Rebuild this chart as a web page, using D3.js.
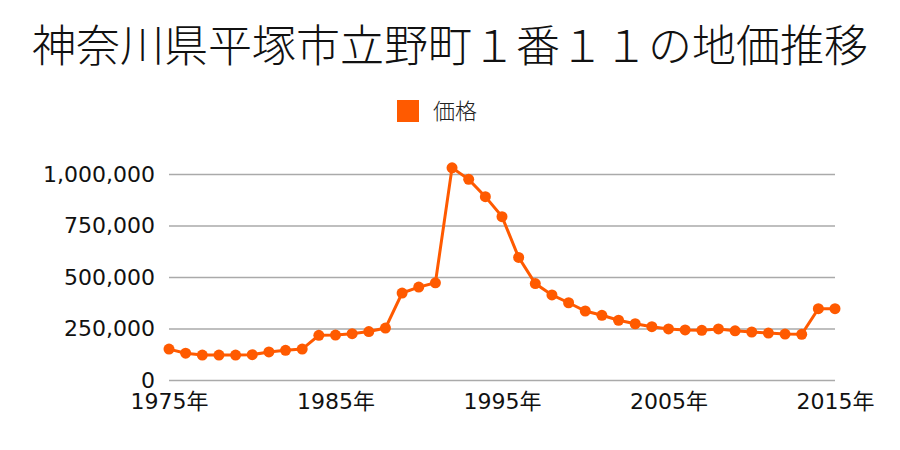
<!DOCTYPE html>
<html><head><meta charset="utf-8">
<script src="https://cdn.jsdelivr.net/npm/d3@7"></script>
<style>body{margin:0;background:#fff}svg{display:block;font-family:"DejaVu Sans","Noto Sans CJK JP",sans-serif}</style>
</head><body><svg id="c" width="900" height="450"></svg>
<script>
const title = "神奈川県平塚市立野町１番１１の地価推移";
const seriesName = "価格";
const years = [1975,1976,1977,1978,1979,1980,1981,1982,1983,1984,1985,1986,1987,1988,1989,1990,1991,1992,1993,1994,1995,1996,1997,1998,1999,2000,2001,2002,2003,2004,2005,2006,2007,2008,2009,2010,2011,2012,2013,2014,2015];
const prices = [150000,130000,121000,121000,121000,123000,136000,144000,150000,217000,218000,225000,235000,252000,422000,451000,472000,1030000,974000,890000,793000,595000,468000,413000,375000,335000,314000,290000,273000,259000,248000,243000,241000,248000,239000,233000,228000,223000,222000,346000,346000];
const yTicks = [0,250000,500000,750000,1000000];
const xTicks = [1975,1985,1995,2005,2015];
const color = "#ff5a00";
const labelFont = "'DejaVu Sans','Noto Sans CJK JP',sans-serif";

const svg = d3.select("#c");
const x = d3.scaleLinear().domain([1975,2015]).range([169,835]);
const y = d3.scaleLinear().domain([0,1000000]).range([380,174]);

svg.append("text").attr("x",450).attr("y",62).attr("text-anchor","middle")
  .attr("font-size",44).attr("fill","#111").attr("font-family","'Noto Sans CJK JP',sans-serif")
  .attr("font-weight",300).text(title);

svg.append("rect").attr("x",397).attr("y",100).attr("width",22).attr("height",22).attr("fill",color);
svg.append("text").attr("x",433).attr("y",119).attr("font-size",22).attr("fill","#222")
  .attr("font-family","'Noto Sans CJK JP',sans-serif").attr("font-weight",300).text(seriesName);

const fmt = d3.format(",");
const gy = svg.append("g").attr("transform","translate(169,0)")
  .call(d3.axisLeft(y).tickValues(yTicks).tickFormat(fmt).tickSize(-666).tickPadding(14));
gy.select(".domain").remove();
gy.selectAll(".tick line").attr("stroke","#aaa").attr("stroke-width",1.5);
gy.selectAll(".tick text").attr("font-size",22).attr("fill","#111").attr("font-family",labelFont);

const gx = svg.append("g").attr("transform","translate(0,380)")
  .call(d3.axisBottom(x).tickValues(xTicks).tickFormat(d=>d+"年").tickSize(0).tickPadding(13));
gx.select(".domain").remove();
gx.selectAll(".tick text").attr("font-size",22).attr("fill","#111").attr("font-family",labelFont);

const data = years.map((yr,i)=>({yr, v:prices[i]}));
svg.append("path").datum(data).attr("fill","none").attr("stroke",color).attr("stroke-width",3)
  .attr("d", d3.line().x(d=>x(d.yr)).y(d=>y(d.v)));
svg.append("g").selectAll("circle").data(data).join("circle")
  .attr("cx",d=>x(d.yr)).attr("cy",d=>y(d.v)).attr("r",5.5).attr("fill",color);
</script></body></html>
